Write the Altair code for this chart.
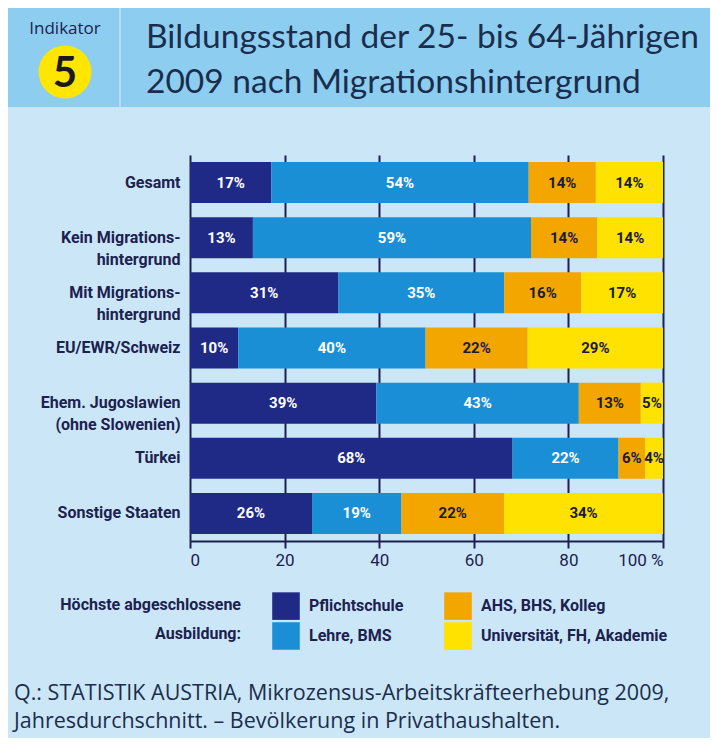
import altair as alt
import pandas as pd

# ---------------- data ----------------
CATEGORIES = [
    "Gesamt",
    "Kein Migrations-|hintergrund",
    "Mit Migrations-|hintergrund",
    "EU/EWR/Schweiz",
    "Ehem. Jugoslawien|(ohne Slowenien)",
    "Türkei",
    "Sonstige Staaten",
]
LEVELS = ["Pflichtschule", "Lehre, BMS", "AHS, BHS, Kolleg", "Universität, FH, Akademie"]
PFLICHT = [17.2, 13.3, 31.4, 10.2, 39.4, 68.2, 25.8]
LEHRE = [54.4, 58.8, 35.0, 39.6, 42.8, 22.4, 18.9]
AHS = [14.2, 14.0, 16.3, 21.6, 13.1, 5.6, 21.7]
UNI = [14.2, 13.9, 17.3, 28.6, 4.7, 3.8, 33.6]
COLORS = ["#1f2a86", "#1b8fd6", "#f4a600", "#ffe200"]
X_TICKS = [0, 20, 40, 60, 80, 100]

INDIKATOR = "Indikator"
NUMMER = "5"
TITLE_LINES = ["Bildungsstand der 25- bis 64-Jährigen", "2009 nach Migrationshintergrund"]
LEGEND_TITLE = ["Höchste abgeschlossene", "Ausbildung:"]
SOURCE_LINES = [
    "Q.: STATISTIK AUSTRIA, Mikrozensus-Arbeitskräfteerhebung 2009,",
    "Jahresdurchschnitt. – Bevölkerung in Privathaushalten.",
]

rows = []
for ci, cat in enumerate(CATEGORIES):
    for li, series in enumerate([PFLICHT, LEHRE, AHS, UNI]):
        rows.append({"cat": cat, "level": LEVELS[li], "idx": li, "value": series[ci]})
df = pd.DataFrame(rows)

# ---------------- style ----------------
COND = "Roboto"
GEO = "Lato"
SRC = "Open Sans"
NAVY = "#1c2150"
BG = "#cbe7f7"
HEAD = "#8dcef0"

W, H = 473, 386
one = pd.DataFrame({"k": [0]})

legend_domain = [LEVELS[0], LEVELS[2], LEVELS[1], LEVELS[3]]
legend_range = [COLORS[0], COLORS[2], COLORS[1], COLORS[3]]

base = alt.Chart(df).transform_stack(
    stack="value", as_=["v0", "v1"], groupby=["cat"], sort=[alt.SortField("idx")]
)

yenc = alt.Y(
    "cat:N",
    sort=CATEGORIES,
    scale=alt.Scale(paddingInner=0.25, paddingOuter=0.125),
    axis=alt.Axis(
        title=None, domain=False, ticks=False, grid=False,
        labelExpr="split(datum.label, '|')",
        labelFont=COND, labelFontSize=16, labelFontWeight="bold",
        labelColor=NAVY, labelLineHeight=22, labelPadding=10,
    ),
)

bars = base.mark_bar(size=41).encode(
    x=alt.X(
        "v0:Q",
        scale=alt.Scale(domain=[0, 100], nice=False),
        axis=alt.Axis(
            title=None, values=X_TICKS, grid=True, gridColor=NAVY, gridWidth=2,
            domainColor=NAVY, domainWidth=2, tickColor=NAVY, tickWidth=2, tickSize=7,
            labelFont=COND, labelFontSize=17, labelColor=NAVY, labelPadding=4,
            labelExpr="datum.value == 100 ? '100 %' : datum.label",
        ),
    ),
    x2="v1:Q",
    y=yenc,
    color=alt.Color(
        "level:N",
        scale=alt.Scale(domain=legend_domain, range=legend_range),
        legend=alt.Legend(
            title=None, orient="none", legendX=82, legendY=437,
            columns=2, direction="horizontal",
            labelFont=COND, labelFontSize=16, labelFontWeight="bold", labelColor=NAVY,
            labelOffset=9, labelLimit=260, symbolType="square", symbolSize=760,
            symbolStrokeWidth=0, symbolOpacity=1, rowPadding=2, columnPadding=40,
        ),
    ),
    order=alt.Order("idx:Q"),
)

labels = base.transform_calculate(
    mid="(datum.v0 + datum.v1) / 2",
    lab="format(datum.value, '.0f') + '%'",
).mark_text(font=COND, fontSize=15, fontWeight="bold").encode(
    x="mid:Q",
    y=alt.Y("cat:N", sort=CATEGORIES),
    text="lab:N",
    color=alt.condition("datum.idx < 2", alt.value("white"), alt.value("#1a1a3a")),
)

# ---------------- header, legend title & footer decorations ----------------
head_band = alt.Chart(one).mark_rect(color=HEAD).encode(
    x=alt.value(-182), x2=alt.value(520), y=alt.value(-147), y2=alt.value(-48)
)
divider = alt.Chart(one).mark_rect(color="#b3ddf4").encode(
    x=alt.value(-71), x2=alt.value(-69), y=alt.value(-147), y2=alt.value(-48)
)
circle = alt.Chart(one).mark_point(filled=True, color="#ffe600", opacity=1, size=2800).encode(
    x=alt.value(-125), y=alt.value(-83)
)
ind_text = alt.Chart(one).mark_text(
    text=INDIKATOR, font=SRC, fontSize=17, color=NAVY, baseline="middle"
).encode(x=alt.value(-125), y=alt.value(-126))
num_text = alt.Chart(one).mark_text(
    text=NUMMER, font=GEO, fontSize=42, fontWeight="bold", color="#1a1a1a", baseline="middle"
).encode(x=alt.value(-125), y=alt.value(-81))
title_text = alt.Chart(one).mark_text(
    text=TITLE_LINES, font=GEO, fontSize=33.5, color="#1b2d4d", align="left",
    baseline="alphabetic", lineHeight=45,
).encode(x=alt.value(-44), y=alt.value(-107))
legend_title = alt.Chart(one).mark_text(
    text=LEGEND_TITLE, font=COND, fontSize=16, fontWeight="bold", color=NAVY,
    align="right", baseline="middle", lineHeight=29,
).encode(x=alt.value(51), y=alt.value(450))
source_text = alt.Chart(one).mark_text(
    text=SOURCE_LINES, font=SRC, fontSize=21.5, color="#1b2d4d", align="left",
    baseline="alphabetic", lineHeight=28,
).encode(x=alt.value(-176), y=alt.value(545))

chart = alt.layer(
    head_band, divider, circle, ind_text, num_text, title_text, legend_title,
    source_text, bars, labels
).properties(
    width=W, height=H,
    autosize=alt.AutoSizeParams(type="none"),
    padding={"left": 182, "top": 147, "right": 47, "bottom": 197},
    background=BG,
).configure_view(stroke=None)

chart.save("out.html", embed_options={"renderer": "svg", "actions": False})
